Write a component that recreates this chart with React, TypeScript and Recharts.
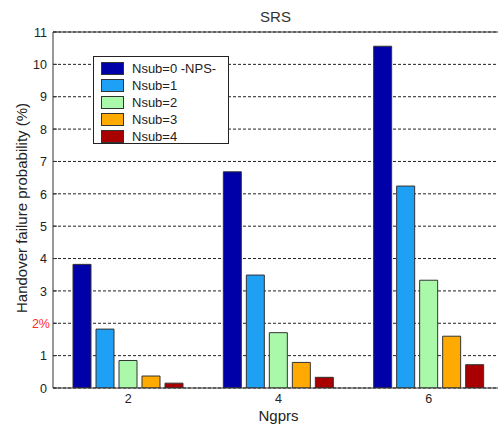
import React from 'react';
import { BarChart, Bar, XAxis, YAxis, CartesianGrid, Legend, ReferenceLine } from 'recharts';

// Ngprs groups on the x axis
const ngprs = ['2', '4', '6'];

// Handover failure probability (%) per Nsub setting
const nsub0 = [3.82, 6.68, 10.56];
const nsub1 = [1.82, 3.49, 6.24];
const nsub2 = [0.85, 1.71, 3.33];
const nsub3 = [0.37, 0.79, 1.6];
const nsub4 = [0.15, 0.33, 0.72];

const seriesNames = ['Nsub=0 -NPS-', 'Nsub=1', 'Nsub=2', 'Nsub=3', 'Nsub=4'];
const seriesKeys = ['nsub0', 'nsub1', 'nsub2', 'nsub3', 'nsub4'];
const seriesColors = ['#0000a8', '#1ea0f5', '#aaf8aa', '#ffaa00', '#a80000'];

const yTicks = [0, 1, 2, 3, 4, 5, 6, 7, 8, 9, 10, 11];
const yMax = 11;
const refTickValue = 2;
const refTickLabel = '2%';

const titleText = 'SRS';
const xLabel = 'Ngprs';
const yLabel = 'Handover failure probability (%)';

const data = ngprs.map((g, i) => ({
  ngprs: g,
  nsub0: nsub0[i],
  nsub1: nsub1[i],
  nsub2: nsub2[i],
  nsub3: nsub3[i],
  nsub4: nsub4[i],
}));

const FONT = '"Liberation Sans", Arial, Helvetica, sans-serif';
const INK = '#222';

const CHART_W = 510;
const CHART_H = 429;
const MARGIN = { top: 32, right: 6, bottom: 0, left: 0 };
const Y_AXIS_W = 53;

const YTick = (props: any) => {
  const { x, y, payload } = props;
  const isRef = payload.value === refTickValue;
  return (
    <text
      x={x + (isRef ? 3 : 0)}
      y={y}
      dy="0.38em"
      textAnchor="end"
      fontSize={12.5}
      fontFamily={FONT}
      fill={isRef ? '#ff2b2b' : INK}
    >
      {isRef ? refTickLabel : payload.value}
    </text>
  );
};

const LegendBox = () => (
  <div
    style={{
      width: 136,
      height: 88,
      boxSizing: 'border-box',
      border: '1px solid #222',
      background: '#fff',
      paddingTop: 3,
      paddingLeft: 7,
      fontFamily: FONT,
      fontSize: 13,
      color: INK,
    }}
  >
    {seriesNames.map((name, i) => (
      <div key={name} style={{ display: 'flex', alignItems: 'center', height: 17 }}>
        <span
          style={{
            display: 'inline-block',
            width: 23,
            height: 13,
            boxSizing: 'border-box',
            border: '1px solid #333',
            background: seriesColors[i],
          }}
        />
        <span style={{ marginLeft: 8, lineHeight: '17px', whiteSpace: 'nowrap' }}>{name}</span>
      </div>
    ))}
  </div>
);

export default function App() {
  const plotLeft = MARGIN.left + Y_AXIS_W;
  const plotWidth = CHART_W - plotLeft - MARGIN.right;
  return (
    <div
      style={{
        position: 'absolute',
        left: 0,
        top: 0,
        width: 498,
        height: 429,
        overflow: 'hidden',
        background: '#fff',
      }}
    >
      <div
        style={{
          position: 'absolute',
          left: plotLeft - 3,
          width: plotWidth,
          top: 8,
          textAlign: 'center',
          fontFamily: FONT,
          fontSize: 15,
          lineHeight: '17px',
          color: '#333',
          zIndex: 1,
        }}
      >
        {titleText}
      </div>
      <BarChart
        width={CHART_W}
        height={CHART_H}
        data={data}
        margin={MARGIN}
        barSize={18}
        barGap={5}
      >
        <CartesianGrid vertical={false} stroke="#222" strokeDasharray="3 2" />
        <XAxis
          dataKey="ngprs"
          height={41}
          tickLine={false}
          tickSize={4}
          tickMargin={2}
          axisLine={{ stroke: '#333' }}
          tick={{ fontSize: 12.5, fontFamily: FONT, fill: INK }}
          label={({ viewBox }: any) => (
            <text
              x={viewBox.x + viewBox.width / 2}
              y={viewBox.y + 33}
              textAnchor="middle"
              fontSize={15}
              fontFamily={FONT}
              fill={INK}
            >
              {xLabel}
            </text>
          )}
        />
        <YAxis
          width={Y_AXIS_W}
          domain={[0, yMax]}
          ticks={yTicks}
          interval={0}
          allowDataOverflow
          tickSize={-4}
          tickMargin={10}
          axisLine={{ stroke: '#333' }}
          tickLine={{ stroke: '#333' }}
          tick={<YTick />}
          label={({ viewBox }: any) => {
            const cx = viewBox.x + 21;
            const cy = viewBox.y + viewBox.height / 2 - 2;
            return (
              <text
                x={cx}
                y={cy}
                transform={`rotate(-90 ${cx} ${cy})`}
                textAnchor="middle"
                dominantBaseline="central"
                fontSize={15}
                fontFamily={FONT}
                fill={INK}
              >
                {yLabel}
              </text>
            );
          }}
        />
        <ReferenceLine y={yMax} stroke="#333" strokeWidth={1} />
        <Legend
          layout="vertical"
          align="center"
          verticalAlign="middle"
          content={() => <LegendBox />}
          wrapperStyle={{ left: 93, top: 56, width: 'auto', height: 'auto' }}
        />
        {seriesKeys.map((k, i) => (
          <Bar
            key={k}
            dataKey={k}
            name={seriesNames[i]}
            fill={seriesColors[i]}
            stroke="#333"
            strokeWidth={1}
            isAnimationActive={false}
          />
        ))}
      </BarChart>
    </div>
  );
}
